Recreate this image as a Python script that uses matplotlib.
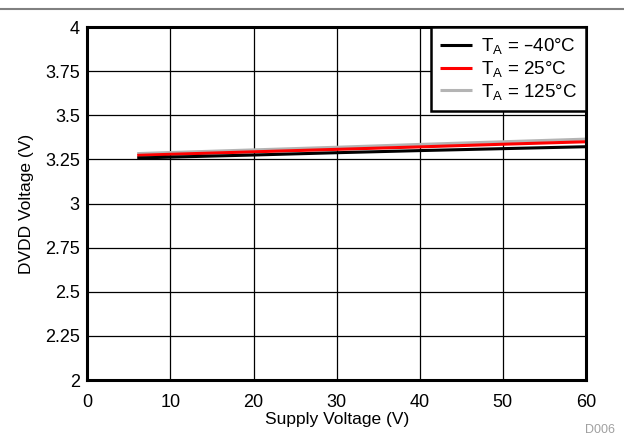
import matplotlib
matplotlib.use("Agg")
import matplotlib.pyplot as plt
from matplotlib.lines import Line2D

plt.rcParams['font.family'] = ['Liberation Sans', 'DejaVu Sans']
plt.rcParams['mathtext.default'] = 'regular'

supply_v = [6, 10, 20, 30, 40, 50, 60]
dvdd_m40 = [3.258, 3.263, 3.275, 3.288, 3.300, 3.311, 3.322]
dvdd_25 = [3.273, 3.279, 3.293, 3.307, 3.321, 3.336, 3.350]
dvdd_125 = [3.283, 3.289, 3.304, 3.319, 3.335, 3.350, 3.365]

series = [
    (dvdd_m40, 'black', 'T$_A$ = \u201340\u00b0C'),
    (dvdd_25, '#ff0000', 'T$_A$ = 25\u00b0C'),
    (dvdd_125, '#b4b4b4', 'T$_A$ = 125\u00b0C'),
]

fig = plt.figure(figsize=(6.24, 4.43), dpi=100)
ax = fig.add_axes([0.140, 0.142, 0.799, 0.797])

# draw grey first so darker curves sit on top
for vals, col, lab in reversed(series):
    ax.plot(supply_v, vals, color=col, lw=2.2, label=lab, solid_capstyle='butt')

ax.set_xlim(0, 60)
ax.set_ylim(2, 4)
ax.set_xticks(range(0, 61, 10))
ax.set_yticks([2, 2.25, 2.5, 2.75, 3, 3.25, 3.5, 3.75, 4])
ax.set_yticklabels(['2', '2.25', '2.5', '2.75', '3', '3.25', '3.5', '3.75', '4'])
ax.grid(True, color='black', lw=0.9)
ax.tick_params(length=0, labelsize=13)
ax.tick_params(axis='y', pad=5.5)
ax.tick_params(axis='x', pad=10)
for s in ax.spines.values():
    s.set_linewidth(2.2)

ax.set_xlabel('Supply Voltage (V)', fontsize=12.5, labelpad=1)
ax.set_ylabel('DVDD Voltage (V)', fontsize=12.5, labelpad=8)

h, l = ax.get_legend_handles_labels()
leg = ax.legend(h[::-1], l[::-1], loc='upper right', fontsize=13.5, frameon=True,
                fancybox=False, borderaxespad=0, handlelength=1.7,
                labelspacing=0.15, borderpad=0.5, handletextpad=0.45)
leg.get_frame().set_edgecolor('black')
leg.get_frame().set_linewidth(1.8)
leg.get_frame().set_alpha(1)

fig.add_artist(Line2D([0, 1], [1 - 9/443, 1 - 9/443], color='#808080', lw=1.5))
fig.text(0.962, 0.022, 'D006', color='#a0a0a0', fontsize=9, ha='center')

fig.savefig('out.png', dpi=100)
